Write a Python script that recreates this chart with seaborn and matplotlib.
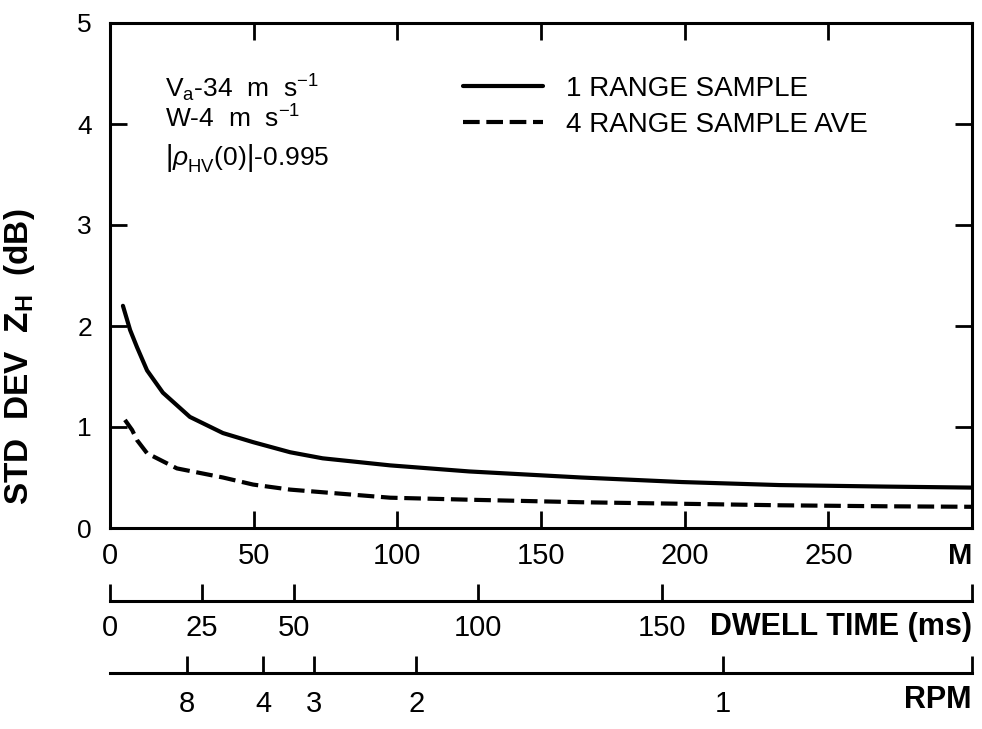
import matplotlib
matplotlib.use("Agg")
import matplotlib.pyplot as plt
import numpy as np
import pandas as pd
import seaborn as sns

# Number of samples M
M_SINGLE = [4.5, 7, 9.4, 12.9, 18.4, 27.8, 39.3, 49.8, 62.7, 74, 97.5, 125, 164, 199, 233, 270, 300]
STD_SINGLE = [2.20, 1.96, 1.79, 1.56, 1.34, 1.10, 0.94, 0.85, 0.75, 0.69, 0.62, 0.56, 0.50, 0.455, 0.425, 0.41, 0.40]

M_AVE = [5.2, 7.7, 9.4, 12.9, 23.3, 39.3, 49.8, 62.7, 97.5, 125, 164, 199, 233, 270, 300]
STD_AVE = [1.07, 0.97, 0.87, 0.74, 0.59, 0.50, 0.43, 0.38, 0.30, 0.28, 0.255, 0.24, 0.225, 0.215, 0.21]

SERIES = ["1 RANGE SAMPLE", "4 RANGE SAMPLE AVE"]

M_TICKS = [0, 50, 100, 150, 200, 250, 300]
M_LABELS = ["0", "50", "100", "150", "200", "250", "M"]
DWELL_TICKS = [0, 25, 50, 100, 150]      # ms
RPM_TICKS = [8, 4, 3, 2, 1]

SAMPLES_PER_MS = 1.28                    # PRF 1280 Hz
BEAMWIDTH_DEG = 1.0
M_MAX = 300

def ms_to_m(ms):
    return np.asarray(ms, dtype=float) * SAMPLES_PER_MS

def rpm_to_m(rpm):
    dwell_ms = 1000.0 * BEAMWIDTH_DEG / (6.0 * np.asarray(rpm, dtype=float))
    return ms_to_m(dwell_ms)

df = pd.concat([
    pd.DataFrame({"M": M_SINGLE, "std": STD_SINGLE, "series": SERIES[0]}),
    pd.DataFrame({"M": M_AVE, "std": STD_AVE, "series": SERIES[1]}),
])

sns.set_style("ticks")
plt.rcParams["font.family"] = ["Liberation Sans", "DejaVu Sans"]
plt.rcParams["mathtext.fontset"] = "custom"
plt.rcParams["mathtext.rm"] = "Liberation Sans"
plt.rcParams["mathtext.it"] = "Liberation Sans:italic"
plt.rcParams["mathtext.bf"] = "Liberation Sans:bold"
for key in ["text.color", "axes.labelcolor", "xtick.color", "ytick.color", "axes.edgecolor"]:
    plt.rcParams[key] = "black"

fig = plt.figure(figsize=(9.82, 7.29), dpi=100)
ax = fig.add_axes([110 / 982, 1 - 528 / 729, 862 / 982, 505 / 729])

sns.lineplot(data=df, x="M", y="std", style="series", color="black",
             dashes={SERIES[0]: "", SERIES[1]: (4, 1.6)}, linewidth=3.0,
             estimator=None, sort=False, ax=ax)

ax.set_xlim(0, M_MAX)
ax.set_ylim(0, 5)
for sp in ax.spines.values():
    sp.set_linewidth(2.2)
    sp.set_visible(True)

ax.set_xticks(M_TICKS)
ax.set_xticklabels(M_LABELS, fontsize=21)
ax.get_xticklabels()[-1].set_fontweight("bold")
ax.get_xticklabels()[-1].set_ha("right")
ax.set_yticks([0, 1, 2, 3, 4, 5])
ax.set_yticklabels(["0", "1", "2", "3", "4", "5"], fontsize=19)
ax.tick_params(axis="x", direction="in", length=12, width=2, pad=10, top=True)
ax.tick_params(axis="y", direction="in", length=12, width=2, pad=13, right=True)

ax.set_xlabel("")
ax.set_ylabel(r"STD  DEV  Z$_\mathbf{H}$  (dB)", fontsize=24, fontweight="bold")
ax.yaxis.set_label_coords(-0.085, 0.339)

# dwell time axis
sec1 = ax.secondary_xaxis(-0.1446)
sec1.set_xticks(np.append(ms_to_m(DWELL_TICKS), M_MAX),
                labels=[str(t) for t in DWELL_TICKS] + [""], fontsize=21)
sec1.tick_params(direction="in", length=12, width=2, pad=9)
sec1.spines["bottom"].set_linewidth(2.2)
ax.text(1.0, -0.196, "DWELL TIME (ms)", transform=ax.transAxes, ha="right",
        va="center", fontsize=22, fontweight="bold")

# rotation rate axis
sec2 = ax.secondary_xaxis(-0.287)
sec2.set_xticks(np.append(rpm_to_m(RPM_TICKS), M_MAX),
                labels=[str(t) for t in RPM_TICKS] + [""], fontsize=21)
sec2.tick_params(direction="in", length=12, width=2, pad=12)
sec2.spines["bottom"].set_linewidth(2.2)
ax.text(1.0, -0.3406, "RPM", transform=ax.transAxes, ha="right",
        va="center", fontsize=22, fontweight="bold")

# parameters
ax.text(0.064, 0.853, r"V$_\mathrm{a}$-34  m  s$^{-1}$", transform=ax.transAxes,
        fontsize=19, va="baseline")
ax.text(0.064, 0.792, r"W-4  m  s$^{-1}$", transform=ax.transAxes,
        fontsize=19, va="baseline")
ax.text(0.064, 0.719, r"$\left|\rho_\mathrm{HV}^{\,}(0)\right|$-0.995", transform=ax.transAxes,
        fontsize=19, va="baseline")

sns.move_legend(ax, "upper left", bbox_to_anchor=(0.409, 0.895), title=None,
                frameon=False, fontsize=20, handlelength=2.9, handletextpad=0.83,
                labelspacing=0.36, borderpad=0, borderaxespad=0)

fig.savefig("out.png", dpi=100)
